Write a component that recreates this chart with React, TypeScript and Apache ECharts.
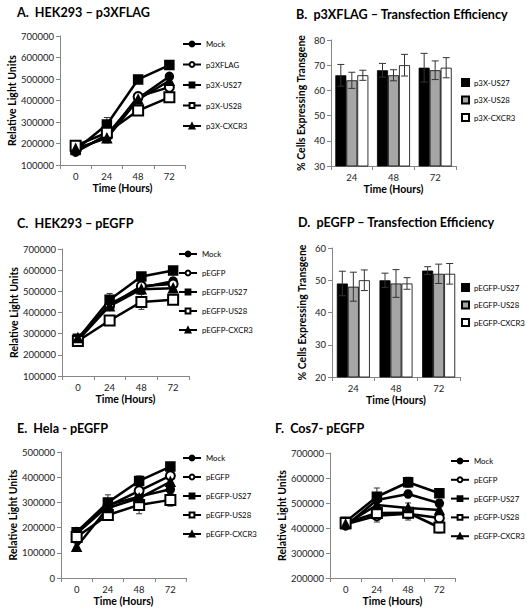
import React, { useEffect, useRef } from 'react';
import * as echarts from 'echarts';

const FONT = 'Lato, "Open Sans", sans-serif';

// ---------- data ----------
const timeLine = ['0', '24', '48', '72'];
const timeBar = ['24', '48', '72'];

const flagNames = ['Mock', 'p3XFLAG', 'p3X-US27', 'p3X-US28', 'p3X-CXCR3'];
const egfpNames = ['Mock', 'pEGFP', 'pEGFP-US27', 'pEGFP-US28', 'pEGFP-CXCR3'];
const flagBarNames = ['p3X-US27', 'p3X-US28', 'p3X-CXCR3'];
const egfpBarNames = ['pEGFP-US27', 'pEGFP-US28', 'pEGFP-CXCR3'];

// A. HEK293 – p3XFLAG (Mock, p3XFLAG, US27, US28, CXCR3)
const hekFlagValues = [
  [160000, 240000, 410000, 512000],
  [168000, 232000, 418000, 462000],
  [170000, 288000, 498000, 565000],
  [190000, 250000, 353000, 415000],
  [176000, 225000, 405000, 492000],
];
const hekFlagErrors = [
  [8000, 15000, 15000, 12000],
  [8000, 15000, 15000, 12000],
  [8000, 33000, 15000, 12000],
  [8000, 15000, 15000, 12000],
  [8000, 22000, 20000, 12000],
];

// B. p3XFLAG – Transfection Efficiency (US27, US28, CXCR3)
const flagEffValues = [
  [66, 68, 69],
  [64, 66, 68],
  [66, 70, 69],
];
const flagEffErrors = [
  [4.3, 2.7, 5.7],
  [3.2, 2.2, 3.7],
  [2.0, 4.3, 4.0],
];

// C. HEK293 – pEGFP
const hekEgfpValues = [
  [272000, 440000, 518000, 548000],
  [268000, 432000, 525000, 535000],
  [276000, 460000, 570000, 598000],
  [265000, 362000, 450000, 460000],
  [280000, 430000, 510000, 515000],
];
const hekEgfpErrors = [
  [8000, 20000, 15000, 15000],
  [8000, 20000, 15000, 15000],
  [8000, 30000, 15000, 15000],
  [8000, 20000, 35000, 20000],
  [8000, 20000, 15000, 15000],
];

// D. pEGFP – Transfection Efficiency
const egfpEffValues = [
  [49, 50, 53],
  [48, 49, 52],
  [50, 49, 52],
];
const egfpEffErrors = [
  [3.8, 2.2, 1.2],
  [4.5, 4.3, 3.0],
  [3.2, 1.8, 3.2],
];

// E. Hela - pEGFP
const helaValues = [
  [184000, 290000, 323000, 352000],
  [176000, 285000, 346000, 406000],
  [182000, 300000, 385000, 442000],
  [163000, 250000, 290000, 310000],
  [124000, 278000, 317000, 382000],
];
const helaErrors = [
  [8000, 20000, 15000, 15000],
  [8000, 20000, 15000, 15000],
  [8000, 30000, 20000, 15000],
  [8000, 20000, 35000, 25000],
  [12000, 20000, 15000, 15000],
];

// F. Cos7- pEGFP
const cosValues = [
  [408000, 512000, 536000, 499000],
  [415000, 449000, 457000, 440000],
  [425000, 525000, 583000, 539000],
  [420000, 460000, 461000, 402000],
  [415000, 492000, 480000, 472000],
];
const cosErrors = [
  [8000, 20000, 15000, 15000],
  [8000, 25000, 25000, 15000],
  [8000, 35000, 20000, 15000],
  [8000, 20000, 20000, 22000],
  [8000, 20000, 20000, 15000],
];

// ---------- styles ----------
const lineSymbols = ['circle', 'emptyCircle', 'rect', 'emptyRect', 'triangle'];
const lineSymbolSizes = [8, 9, 9, 10, 9];
const barColors = ['#000000', '#a6a6a6', '#ffffff'];
const BAR_W = 11;
const AXIS_COLOR = '#868686';
const LABEL_COLOR = '#222';

const errRender = (dx: number, cap: number) => (params: any, api: any) => {
  const x = api.value(0);
  const v = api.value(1);
  const e = api.value(2);
  const top = api.coord([x, v + e]);
  const bot = api.coord([x, v - e]);
  const cx = top[0] + dx;
  const style = { stroke: '#333', lineWidth: 1 };
  return {
    type: 'group',
    children: [
      { type: 'line', shape: { x1: cx, y1: top[1], x2: cx, y2: bot[1] }, style },
      { type: 'line', shape: { x1: cx - cap, y1: top[1], x2: cx + cap, y2: top[1] }, style },
      { type: 'line', shape: { x1: cx - cap, y1: bot[1], x2: cx + cap, y2: bot[1] }, style },
    ],
  };
};

function lineSeries(idx: number, names: string[], values: number[][], errors: number[][]) {
  const out: any[] = [];
  names.forEach((name, i) => {
    out.push({
      type: 'custom',
      name: `err-${idx}-${i}`,
      xAxisIndex: idx,
      yAxisIndex: idx,
      silent: true,
      z: 1,
      data: values[i].map((v, j) => [j, v, errors[i][j]]),
      renderItem: errRender(0, 3),
    });
    out.push({
      type: 'line',
      name,
      xAxisIndex: idx,
      yAxisIndex: idx,
      data: values[i],
      symbol: lineSymbols[i],
      symbolSize: lineSymbolSizes[i],
      showAllSymbol: true,
      z: 3,
      lineStyle: { color: '#000', width: 2.5 },
      itemStyle: { color: '#000', borderColor: '#000', borderWidth: 1.5 },
      emphasis: { disabled: true },
    });
  });
  return out;
}

function barSeries(idx: number, names: string[], values: number[][], errors: number[][]) {
  const out: any[] = [];
  names.forEach((name, i) => {
    out.push({
      type: 'bar',
      name: `${name}|bar`,
      xAxisIndex: idx,
      yAxisIndex: idx,
      data: values[i],
      barWidth: BAR_W,
      barGap: '0%',
      itemStyle: { color: barColors[i], borderColor: '#000', borderWidth: 0.8 },
      emphasis: { disabled: true },
    });
  });
  names.forEach((name, i) => {
    out.push({
      type: 'custom',
      name: `berr-${idx}-${i}`,
      xAxisIndex: idx,
      yAxisIndex: idx,
      silent: true,
      z: 5,
      data: values[i].map((v, j) => [j, v, errors[i][j]]),
      renderItem: errRender((i - 1) * BAR_W, 3.5),
    });
  });
  return out;
}

const gridDefs = [
  { left: 60, top: 36, width: 125, height: 129 },
  { left: 331, top: 40, width: 125, height: 126 },
  { left: 62, top: 249, width: 127, height: 127 },
  { left: 332, top: 248, width: 128, height: 129 },
  { left: 61, top: 452, width: 125, height: 126 },
  { left: 330, top: 453, width: 125, height: 125 },
];

const yDefs = [
  { min: 100000, max: 700000, interval: 100000, name: 'Relative Light Units', gap: 40 },
  { min: 30, max: 80, interval: 10, name: '% Cells Expressing Transgene', gap: 25 },
  { min: 100000, max: 700000, interval: 100000, name: 'Relative Light Units', gap: 40 },
  { min: 20, max: 60, interval: 10, name: '% Cells Expressing Transgene', gap: 25 },
  { min: 0, max: 500000, interval: 100000, name: 'Relative Light Units', gap: 40 },
  { min: 200000, max: 700000, interval: 100000, name: 'Relative Light Units', gap: 40 },
];

const titleDefs = [
  { text: 'A.  HEK293 – p3XFLAG', left: 17, top: 6 },
  { text: 'B.  p3XFLAG – Transfection Efficiency', left: 296, top: 8 },
  { text: 'C.  HEK293 – pEGFP', left: 17, top: 217 },
  { text: 'D.  pEGFP – Transfection Efficiency', left: 298, top: 216 },
  { text: 'E.  Hela - pEGFP', left: 17, top: 422 },
  { text: 'F.  Cos7- pEGFP', left: 275, top: 422 },
];

const nameStyle = { fontFamily: FONT, fontWeight: 'bold' as const, fontSize: 10.5, color: '#000' };

function buildOption(): any {
  const isBar = [false, true, false, true, false, false];
  const xAxis = gridDefs.map((_, i) => ({
    type: 'category',
    gridIndex: i,
    data: isBar[i] ? timeBar : timeLine,
    boundaryGap: true,
    axisLine: { show: true, lineStyle: { color: AXIS_COLOR, width: 1 } },
    axisTick: { show: true, length: 4, lineStyle: { color: AXIS_COLOR } },
    axisLabel: { fontFamily: FONT, fontSize: 9.5, color: LABEL_COLOR, margin: 6 },
    name: 'Time (Hours)',
    nameLocation: 'middle',
    nameGap: 17,
    nameTextStyle: nameStyle,
    splitLine: { show: false },
  }));
  const yAxis = yDefs.map((d, i) => ({
    type: 'value',
    gridIndex: i,
    min: d.min,
    max: d.max,
    interval: d.interval,
    axisLine: { show: true, lineStyle: { color: AXIS_COLOR, width: 1 } },
    axisTick: { show: true, length: 4, lineStyle: { color: AXIS_COLOR } },
    axisLabel: {
      fontFamily: FONT,
      fontSize: 9.5,
      color: LABEL_COLOR,
      margin: 6,
      formatter: (v: number) => String(v),
    },
    splitLine: { show: false },
    name: d.name,
    nameLocation: 'middle',
    nameGap: d.gap,
    nameRotate: 90,
    nameTextStyle: nameStyle,
  }));

  const lineLegend = (names: string[], left: number, top: number, gap: number) => ({
    data: names,
    orient: 'vertical',
    left,
    top,
    padding: 0,
    itemWidth: 18,
    itemHeight: 6,
    itemGap: gap,
    textStyle: { fontFamily: FONT, fontSize: 7.8, color: '#000' },
    selectedMode: false,
  });
  const barLegend = (names: string[], left: number, top: number) => ({
    data: names.map((n) => `${n}|bar`),
    orient: 'vertical',
    left,
    top,
    padding: 0,
    icon: 'rect',
    itemWidth: 7,
    itemHeight: 7,
    itemGap: 8.5,
    textStyle: { fontFamily: FONT, fontSize: 7.8, color: '#000' },
    selectedMode: false,
    formatter: (n: string) => n.split('|')[0],
  });

  return {
    animation: false,
    backgroundColor: '#ffffff',
    textStyle: { fontFamily: FONT },
    title: titleDefs.map((t) => ({
      text: t.text,
      left: t.left,
      top: t.top,
      padding: 0,
      textStyle: { fontFamily: FONT, fontWeight: 'bold', fontSize: 12.6, color: '#000' },
    })),
    grid: gridDefs,
    xAxis,
    yAxis,
    legend: [
      lineLegend(flagNames, 182, 40, 12.5),
      barLegend(flagBarNames, 461, 78),
      lineLegend(egfpNames, 178, 250, 11),
      barLegend(egfpBarNames, 461, 283),
      lineLegend(egfpNames, 182, 454, 11),
      lineLegend(egfpNames, 450, 457, 10.8),
    ],
    series: [
      ...lineSeries(0, flagNames, hekFlagValues, hekFlagErrors),
      ...barSeries(1, flagBarNames, flagEffValues, flagEffErrors),
      ...lineSeries(2, egfpNames, hekEgfpValues, hekEgfpErrors),
      ...barSeries(3, egfpBarNames, egfpEffValues, egfpEffErrors),
      ...lineSeries(4, egfpNames, helaValues, helaErrors),
      ...lineSeries(5, egfpNames, cosValues, cosErrors),
    ],
  };
}

export default function App() {
  const ref = useRef<HTMLDivElement>(null);
  useEffect(() => {
    if (!ref.current) return;
    const chart = echarts.init(ref.current, undefined, { renderer: 'svg' });
    chart.setOption(buildOption());
    return () => chart.dispose();
  }, []);
  return (
    <div
      ref={ref}
      style={{ position: 'fixed', left: 0, top: 0, width: 527, height: 614, background: '#fff' }}
    />
  );
}
